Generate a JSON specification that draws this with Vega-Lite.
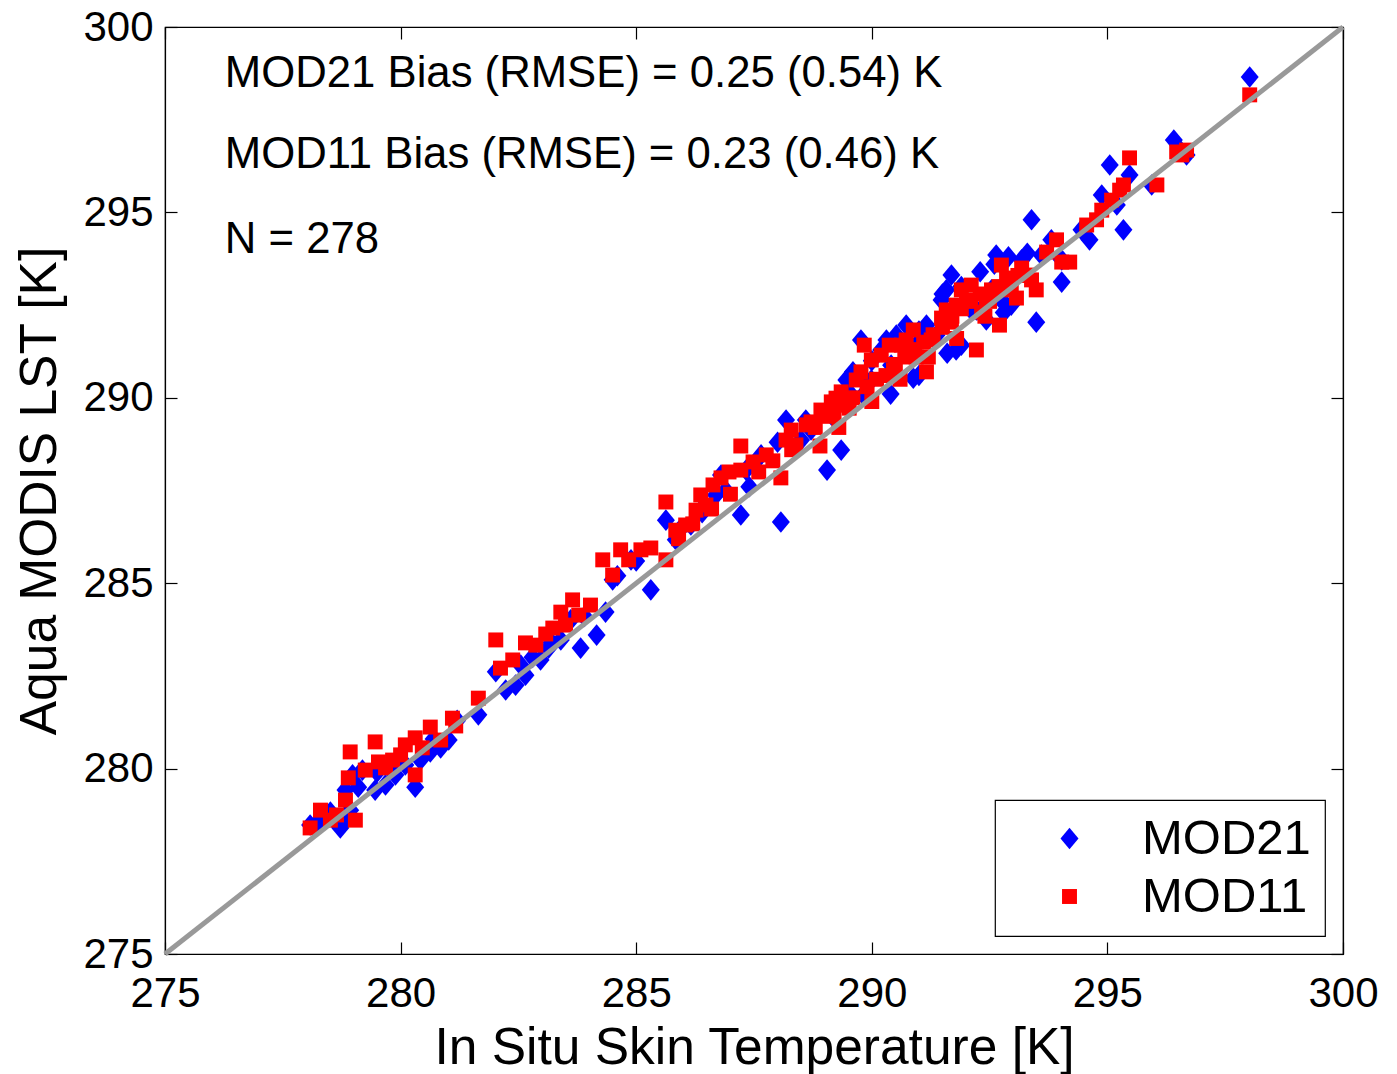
{
  "$schema": "https://vega.github.io/schema/vega-lite/v6.json",
  "width": 1178,
  "height": 927,
  "autosize": {"type": "none"},
  "padding": {"left": 165, "top": 27, "right": 54, "bottom": 120},
  "background": "white",
  "config": {
    "font": "Liberation Sans",
    "view": {"stroke": "black", "strokeWidth": 1.2},
    "axis": {
      "grid": false,
      "labelFont": "Liberation Sans",
      "titleFont": "Liberation Sans",
      "labelFontSize": 42,
      "titleFontSize": 51.5,
      "titleFontWeight": "normal",
      "labelColor": "black",
      "titleColor": "black",
      "domainColor": "black",
      "tickColor": "black",
      "tickSize": -12,
      "tickWidth": 1.2,
      "domainWidth": 1.2,
      "labelFlush": false,
      "labelOverlap": false
    },
    "legend": {
      "strokeColor": "black",
      "strokeWidth": 1.2,
      "fillColor": "white",
      "padding": 14,
      "rowPadding": 8,
      "labelFontSize": 49,
      "labelFont": "Liberation Sans",
      "labelColor": "black",
      "labelLimit": 400,
      "symbolSize": 324,
      "symbolOffset": 36,
      "labelOffset": 48,
      "symbolStrokeWidth": 0
    }
  },
  "datasets": {
    "pts": [
      {"series":"MOD21","insitu":278.08,"lst":278.48},
      {"series":"MOD21","insitu":278.25,"lst":278.56},
      {"series":"MOD21","insitu":278.40,"lst":278.67},
      {"series":"MOD21","insitu":278.51,"lst":278.83},
      {"series":"MOD21","insitu":278.72,"lst":278.40},
      {"series":"MOD21","insitu":278.83,"lst":278.61},
      {"series":"MOD21","insitu":278.93,"lst":278.88},
      {"series":"MOD21","insitu":278.83,"lst":279.42},
      {"series":"MOD21","insitu":278.98,"lst":279.83},
      {"series":"MOD21","insitu":279.19,"lst":279.96},
      {"series":"MOD21","insitu":279.46,"lst":279.42},
      {"series":"MOD21","insitu":279.68,"lst":279.56},
      {"series":"MOD21","insitu":279.89,"lst":279.83},
      {"series":"MOD21","insitu":280.10,"lst":280.10},
      {"series":"MOD21","insitu":280.31,"lst":279.50},
      {"series":"MOD21","insitu":280.42,"lst":280.23},
      {"series":"MOD21","insitu":280.63,"lst":280.45},
      {"series":"MOD21","insitu":280.85,"lst":280.56},
      {"series":"MOD21","insitu":281.02,"lst":280.77},
      {"series":"MOD21","insitu":281.65,"lst":281.45},
      {"series":"MOD21","insitu":282.02,"lst":282.61},
      {"series":"MOD21","insitu":282.23,"lst":282.12},
      {"series":"MOD21","insitu":282.44,"lst":282.25},
      {"series":"MOD21","insitu":282.55,"lst":282.79},
      {"series":"MOD21","insitu":282.65,"lst":282.52},
      {"series":"MOD21","insitu":282.97,"lst":282.93},
      {"series":"MOD21","insitu":283.14,"lst":283.25},
      {"series":"MOD21","insitu":283.40,"lst":283.47},
      {"series":"MOD21","insitu":283.61,"lst":284.01},
      {"series":"MOD21","insitu":283.82,"lst":283.25},
      {"series":"MOD21","insitu":284.16,"lst":283.60},
      {"series":"MOD21","insitu":284.35,"lst":284.22},
      {"series":"MOD21","insitu":284.50,"lst":285.09},
      {"series":"MOD21","insitu":284.89,"lst":285.63},
      {"series":"MOD21","insitu":285.31,"lst":284.82},
      {"series":"MOD21","insitu":285.63,"lst":286.70},
      {"series":"MOD21","insitu":285.84,"lst":286.17},
      {"series":"MOD21","insitu":286.16,"lst":286.57},
      {"series":"MOD21","insitu":286.37,"lst":286.97},
      {"series":"MOD21","insitu":286.69,"lst":287.38},
      {"series":"MOD21","insitu":286.80,"lst":287.92},
      {"series":"MOD21","insitu":287.22,"lst":286.84},
      {"series":"MOD21","insitu":287.33,"lst":288.05},
      {"series":"MOD21","insitu":287.65,"lst":288.46},
      {"series":"MOD21","insitu":288.07,"lst":286.65},
      {"series":"MOD21","insitu":288.18,"lst":289.40},
      {"series":"MOD21","insitu":288.50,"lst":288.86},
      {"series":"MOD21","insitu":288.71,"lst":289.13},
      {"series":"MOD21","insitu":289.05,"lst":288.05},
      {"series":"MOD21","insitu":289.14,"lst":289.54},
      {"series":"MOD21","insitu":289.35,"lst":288.59},
      {"series":"MOD21","insitu":289.46,"lst":290.48},
      {"series":"MOD21","insitu":289.56,"lst":290.08},
      {"series":"MOD21","insitu":289.77,"lst":291.56},
      {"series":"MOD21","insitu":289.82,"lst":290.08},
      {"series":"MOD21","insitu":289.99,"lst":290.48},
      {"series":"MOD21","insitu":290.20,"lst":291.29},
      {"series":"MOD21","insitu":290.31,"lst":291.56},
      {"series":"MOD21","insitu":290.41,"lst":290.88},
      {"series":"MOD21","insitu":290.52,"lst":291.69},
      {"series":"MOD21","insitu":290.73,"lst":291.96},
      {"series":"MOD21","insitu":290.88,"lst":290.53},
      {"series":"MOD21","insitu":290.94,"lst":291.42},
      {"series":"MOD21","insitu":291.16,"lst":291.96},
      {"series":"MOD21","insitu":291.37,"lst":291.69},
      {"series":"MOD21","insitu":291.48,"lst":292.64},
      {"series":"MOD21","insitu":291.58,"lst":292.91},
      {"series":"MOD21","insitu":291.69,"lst":293.31},
      {"series":"MOD21","insitu":291.79,"lst":291.29},
      {"series":"MOD21","insitu":291.90,"lst":291.42},
      {"series":"MOD21","insitu":292.11,"lst":292.37},
      {"series":"MOD21","insitu":292.22,"lst":292.37},
      {"series":"MOD21","insitu":292.43,"lst":292.10},
      {"series":"MOD21","insitu":292.54,"lst":292.91},
      {"series":"MOD21","insitu":292.64,"lst":293.85},
      {"series":"MOD21","insitu":292.75,"lst":292.64},
      {"series":"MOD21","insitu":292.96,"lst":292.50},
      {"series":"MOD21","insitu":293.18,"lst":293.72},
      {"series":"MOD21","insitu":293.39,"lst":294.80},
      {"series":"MOD21","insitu":293.49,"lst":292.04},
      {"series":"MOD21","insitu":293.60,"lst":293.85},
      {"series":"MOD21","insitu":293.81,"lst":294.26},
      {"series":"MOD21","insitu":294.03,"lst":293.72},
      {"series":"MOD21","insitu":294.03,"lst":293.12},
      {"series":"MOD21","insitu":294.45,"lst":294.53},
      {"series":"MOD21","insitu":294.62,"lst":294.26},
      {"series":"MOD21","insitu":294.88,"lst":295.47},
      {"series":"MOD21","insitu":295.05,"lst":296.28},
      {"series":"MOD21","insitu":295.20,"lst":295.20},
      {"series":"MOD21","insitu":295.34,"lst":294.53},
      {"series":"MOD21","insitu":295.47,"lst":296.01},
      {"series":"MOD21","insitu":295.94,"lst":295.74},
      {"series":"MOD21","insitu":296.41,"lst":296.95},
      {"series":"MOD21","insitu":296.54,"lst":296.68},
      {"series":"MOD21","insitu":296.68,"lst":296.55},
      {"series":"MOD21","insitu":298.02,"lst":298.65},
      {"series":"MOD21","insitu":289.6,"lst":290.7},
      {"series":"MOD21","insitu":290.0,"lst":291.0},
      {"series":"MOD21","insitu":290.6,"lst":291.5},
      {"series":"MOD21","insitu":291.0,"lst":291.8},
      {"series":"MOD21","insitu":291.5,"lst":292.8},
      {"series":"MOD21","insitu":291.9,"lst":293.0},
      {"series":"MOD21","insitu":292.3,"lst":293.4},
      {"series":"MOD21","insitu":292.6,"lst":293.6},
      {"series":"MOD21","insitu":292.9,"lst":293.8},
      {"series":"MOD21","insitu":293.3,"lst":293.9},
      {"series":"MOD21","insitu":290.4,"lst":290.1},
      {"series":"MOD21","insitu":291.0,"lst":290.6},
      {"series":"MOD21","insitu":291.6,"lst":291.2},
      {"series":"MOD21","insitu":292.8,"lst":292.3},
      {"series":"MOD21","insitu":288.6,"lst":289.4},
      {"series":"MOD21","insitu":288.0,"lst":288.8},
      {"series":"MOD21","insitu":287.4,"lst":287.6},
      {"series":"MOD21","insitu":286.9,"lst":287.5},
      {"series":"MOD21","insitu":286.4,"lst":286.9},
      {"series":"MOD21","insitu":285.9,"lst":286.4},
      {"series":"MOD21","insitu":285.0,"lst":285.6},
      {"series":"MOD21","insitu":284.6,"lst":285.2},
      {"series":"MOD21","insitu":283.9,"lst":284.1},
      {"series":"MOD21","insitu":283.2,"lst":283.4},
      {"series":"MOD21","insitu":282.8,"lst":283.0},
      {"series":"MOD21","insitu":281.2,"lst":281.3},
      {"series":"MOD21","insitu":280.7,"lst":280.8},
      {"series":"MOD21","insitu":279.5,"lst":279.9},
      {"series":"MOD21","insitu":279.1,"lst":279.5},
      {"series":"MOD21","insitu":278.6,"lst":278.6},
      {"series":"MOD11","insitu":278.08,"lst":278.40},
      {"series":"MOD11","insitu":278.30,"lst":278.88},
      {"series":"MOD11","insitu":278.51,"lst":278.61},
      {"series":"MOD11","insitu":278.64,"lst":278.75},
      {"series":"MOD11","insitu":278.83,"lst":279.15},
      {"series":"MOD11","insitu":278.89,"lst":279.75},
      {"series":"MOD11","insitu":278.93,"lst":280.45},
      {"series":"MOD11","insitu":279.04,"lst":278.61},
      {"series":"MOD11","insitu":279.25,"lst":279.96},
      {"series":"MOD11","insitu":279.46,"lst":280.72},
      {"series":"MOD11","insitu":279.53,"lst":280.18},
      {"series":"MOD11","insitu":279.68,"lst":280.02},
      {"series":"MOD11","insitu":279.83,"lst":280.23},
      {"series":"MOD11","insitu":280.00,"lst":280.37},
      {"series":"MOD11","insitu":280.10,"lst":280.64},
      {"series":"MOD11","insitu":280.31,"lst":279.83},
      {"series":"MOD11","insitu":280.31,"lst":280.83},
      {"series":"MOD11","insitu":280.46,"lst":280.56},
      {"series":"MOD11","insitu":280.63,"lst":281.12},
      {"series":"MOD11","insitu":280.85,"lst":280.77},
      {"series":"MOD11","insitu":281.10,"lst":281.36},
      {"series":"MOD11","insitu":281.17,"lst":281.15},
      {"series":"MOD11","insitu":281.65,"lst":281.90},
      {"series":"MOD11","insitu":282.02,"lst":283.47},
      {"series":"MOD11","insitu":282.12,"lst":282.71},
      {"series":"MOD11","insitu":282.38,"lst":282.93},
      {"series":"MOD11","insitu":282.65,"lst":283.39},
      {"series":"MOD11","insitu":282.87,"lst":283.33},
      {"series":"MOD11","insitu":283.08,"lst":283.63},
      {"series":"MOD11","insitu":283.23,"lst":283.79},
      {"series":"MOD11","insitu":283.40,"lst":284.22},
      {"series":"MOD11","insitu":283.50,"lst":283.87},
      {"series":"MOD11","insitu":283.65,"lst":284.55},
      {"series":"MOD11","insitu":283.78,"lst":284.14},
      {"series":"MOD11","insitu":284.03,"lst":284.41},
      {"series":"MOD11","insitu":284.29,"lst":285.63},
      {"series":"MOD11","insitu":284.50,"lst":285.22},
      {"series":"MOD11","insitu":284.67,"lst":285.90},
      {"series":"MOD11","insitu":284.84,"lst":285.63},
      {"series":"MOD11","insitu":285.10,"lst":285.90},
      {"series":"MOD11","insitu":285.31,"lst":285.95},
      {"series":"MOD11","insitu":285.63,"lst":287.19},
      {"series":"MOD11","insitu":285.63,"lst":285.63},
      {"series":"MOD11","insitu":285.84,"lst":286.43},
      {"series":"MOD11","insitu":286.05,"lst":286.57},
      {"series":"MOD11","insitu":286.27,"lst":286.97},
      {"series":"MOD11","insitu":286.37,"lst":287.38},
      {"series":"MOD11","insitu":286.48,"lst":287.11},
      {"series":"MOD11","insitu":286.63,"lst":287.65},
      {"series":"MOD11","insitu":286.80,"lst":287.84},
      {"series":"MOD11","insitu":286.97,"lst":288.00},
      {"series":"MOD11","insitu":287.22,"lst":288.70},
      {"series":"MOD11","insitu":287.22,"lst":288.05},
      {"series":"MOD11","insitu":287.48,"lst":288.27},
      {"series":"MOD11","insitu":287.76,"lst":288.46},
      {"series":"MOD11","insitu":288.07,"lst":287.84},
      {"series":"MOD11","insitu":288.18,"lst":288.86},
      {"series":"MOD11","insitu":288.29,"lst":289.13},
      {"series":"MOD11","insitu":288.39,"lst":288.73},
      {"series":"MOD11","insitu":288.61,"lst":289.27},
      {"series":"MOD11","insitu":288.71,"lst":289.35},
      {"series":"MOD11","insitu":288.92,"lst":289.67},
      {"series":"MOD11","insitu":289.14,"lst":289.89},
      {"series":"MOD11","insitu":289.24,"lst":289.99},
      {"series":"MOD11","insitu":289.35,"lst":290.16},
      {"series":"MOD11","insitu":289.52,"lst":289.72},
      {"series":"MOD11","insitu":289.67,"lst":290.48},
      {"series":"MOD11","insitu":289.77,"lst":290.70},
      {"series":"MOD11","insitu":289.84,"lst":291.42},
      {"series":"MOD11","insitu":289.99,"lst":291.02},
      {"series":"MOD11","insitu":290.20,"lst":291.15},
      {"series":"MOD11","insitu":290.37,"lst":291.42},
      {"series":"MOD11","insitu":290.46,"lst":290.75},
      {"series":"MOD11","insitu":290.63,"lst":291.42},
      {"series":"MOD11","insitu":290.73,"lst":291.56},
      {"series":"MOD11","insitu":290.88,"lst":291.83},
      {"series":"MOD11","insitu":290.94,"lst":291.10},
      {"series":"MOD11","insitu":291.16,"lst":290.70},
      {"series":"MOD11","insitu":291.26,"lst":291.56},
      {"series":"MOD11","insitu":291.48,"lst":292.15},
      {"series":"MOD11","insitu":291.58,"lst":292.37},
      {"series":"MOD11","insitu":291.69,"lst":292.04},
      {"series":"MOD11","insitu":291.79,"lst":292.50},
      {"series":"MOD11","insitu":291.90,"lst":292.91},
      {"series":"MOD11","insitu":292.01,"lst":292.64},
      {"series":"MOD11","insitu":292.11,"lst":293.04},
      {"series":"MOD11","insitu":292.22,"lst":291.29},
      {"series":"MOD11","insitu":292.33,"lst":292.31},
      {"series":"MOD11","insitu":292.43,"lst":292.64},
      {"series":"MOD11","insitu":292.54,"lst":292.91},
      {"series":"MOD11","insitu":292.71,"lst":291.96},
      {"series":"MOD11","insitu":292.75,"lst":293.58},
      {"series":"MOD11","insitu":292.86,"lst":293.23},
      {"series":"MOD11","insitu":292.96,"lst":292.91},
      {"series":"MOD11","insitu":293.07,"lst":292.69},
      {"series":"MOD11","insitu":293.18,"lst":293.50},
      {"series":"MOD11","insitu":293.28,"lst":293.31},
      {"series":"MOD11","insitu":293.39,"lst":293.18},
      {"series":"MOD11","insitu":293.49,"lst":292.91},
      {"series":"MOD11","insitu":293.71,"lst":293.93},
      {"series":"MOD11","insitu":293.92,"lst":294.26},
      {"series":"MOD11","insitu":294.03,"lst":293.66},
      {"series":"MOD11","insitu":294.20,"lst":293.66},
      {"series":"MOD11","insitu":294.56,"lst":294.66},
      {"series":"MOD11","insitu":294.77,"lst":294.80},
      {"series":"MOD11","insitu":294.88,"lst":295.06},
      {"series":"MOD11","insitu":295.09,"lst":295.33},
      {"series":"MOD11","insitu":295.26,"lst":295.60},
      {"series":"MOD11","insitu":295.34,"lst":295.74},
      {"series":"MOD11","insitu":295.47,"lst":296.47},
      {"series":"MOD11","insitu":296.05,"lst":295.74},
      {"series":"MOD11","insitu":296.47,"lst":296.63},
      {"series":"MOD11","insitu":296.58,"lst":296.55},
      {"series":"MOD11","insitu":296.68,"lst":296.68},
      {"series":"MOD11","insitu":298.02,"lst":298.17},
      {"series":"MOD11","insitu":288.8,"lst":289.2},
      {"series":"MOD11","insitu":289.0,"lst":289.5},
      {"series":"MOD11","insitu":289.2,"lst":289.6},
      {"series":"MOD11","insitu":289.4,"lst":289.8},
      {"series":"MOD11","insitu":289.6,"lst":290.0},
      {"series":"MOD11","insitu":289.9,"lst":290.3},
      {"series":"MOD11","insitu":290.1,"lst":290.5},
      {"series":"MOD11","insitu":290.3,"lst":290.6},
      {"series":"MOD11","insitu":290.5,"lst":290.9},
      {"series":"MOD11","insitu":290.7,"lst":291.1},
      {"series":"MOD11","insitu":290.9,"lst":291.3},
      {"series":"MOD11","insitu":291.1,"lst":291.5},
      {"series":"MOD11","insitu":291.3,"lst":291.7},
      {"series":"MOD11","insitu":291.5,"lst":291.9},
      {"series":"MOD11","insitu":291.7,"lst":292.2},
      {"series":"MOD11","insitu":291.9,"lst":292.4},
      {"series":"MOD11","insitu":292.1,"lst":292.6},
      {"series":"MOD11","insitu":292.3,"lst":292.8},
      {"series":"MOD11","insitu":292.5,"lst":292.6},
      {"series":"MOD11","insitu":292.7,"lst":293.0},
      {"series":"MOD11","insitu":292.9,"lst":293.2},
      {"series":"MOD11","insitu":293.1,"lst":293.3},
      {"series":"MOD11","insitu":288.3,"lst":288.6},
      {"series":"MOD11","insitu":287.9,"lst":288.3},
      {"series":"MOD11","insitu":287.6,"lst":288.0},
      {"series":"MOD11","insitu":287.0,"lst":287.4},
      {"series":"MOD11","insitu":286.6,"lst":287.0},
      {"series":"MOD11","insitu":286.2,"lst":286.6},
      {"series":"MOD11","insitu":285.9,"lst":286.2},
      {"series":"MOD11","insitu":290.0,"lst":289.9},
      {"series":"MOD11","insitu":290.6,"lst":290.5},
      {"series":"MOD11","insitu":291.2,"lst":291.1},
      {"series":"MOD11","insitu":291.8,"lst":291.6},
      {"series":"MOD11","insitu":292.4,"lst":292.2},
      {"series":"MOD11","insitu":289.3,"lst":289.2},
      {"series":"MOD11","insitu":288.9,"lst":288.7}
    ],
    "oneline": [{"insitu": 275, "lst": 275}, {"insitu": 300, "lst": 300}],
    "notes": [
      {"insitu": 276.27, "lst": 298.38, "label": "MOD21 Bias (RMSE) = 0.25 (0.54) K"},
      {"insitu": 276.27, "lst": 296.20, "label": "MOD11 Bias (RMSE) = 0.23 (0.46) K"},
      {"insitu": 276.27, "lst": 293.91, "label": "N = 278"}
    ]
  },
  "layer": [
    {
      "data": {"name": "pts"},
      "mark": {"type": "point", "filled": true, "opacity": 1, "size": 324, "strokeWidth": 0},
      "encoding": {
        "x": {
          "field": "insitu", "type": "quantitative",
          "scale": {"domain": [275, 300], "nice": false, "zero": false},
          "axis": {"orient": "bottom", "title": "In Situ Skin Temperature [K]", "values": [275, 280, 285, 290, 295, 300], "labelPadding": 31, "titlePadding": 8}
        },
        "y": {
          "field": "lst", "type": "quantitative",
          "scale": {"domain": [275, 300], "nice": false, "zero": false},
          "axis": {"orient": "left", "title": "Aqua MODIS LST [K]", "values": [275, 280, 285, 290, 295, 300], "labelPadding": 24, "titlePadding": 16}
        },
        "color": {
          "field": "series", "type": "nominal",
          "scale": {"domain": ["MOD21", "MOD11"], "range": ["#0000ff", "#ff0000"]},
          "legend": {"title": null, "orient": "bottom-right", "offset": 18}
        },
        "shape": {
          "field": "series", "type": "nominal",
          "scale": {"domain": ["MOD21", "MOD11"], "range": ["M0,-1.2L1,0L0,1.2L-1,0Z", "M-0.83,-0.83L0.83,-0.83L0.83,0.83L-0.83,0.83Z"]},
          "legend": {"title": null, "orient": "bottom-right", "offset": 18}
        }
      }
    },
    {
      "data": {"name": "oneline"},
      "mark": {"type": "line", "color": "#999999", "strokeWidth": 5},
      "encoding": {
        "x": {"field": "insitu", "type": "quantitative", "axis": {"orient": "top", "title": null, "labels": false, "values": [275, 280, 285, 290, 295, 300]}},
        "y": {"field": "lst", "type": "quantitative", "axis": {"orient": "right", "title": null, "labels": false, "values": [275, 280, 285, 290, 295, 300]}}
      }
    },
    {
      "data": {"name": "notes"},
      "mark": {"type": "text", "align": "left", "baseline": "alphabetic", "fontSize": 43.7, "font": "Liberation Sans", "color": "black"},
      "encoding": {
        "x": {"field": "insitu", "type": "quantitative", "axis": null},
        "y": {"field": "lst", "type": "quantitative", "axis": null},
        "text": {"field": "label"}
      }
    }
  ],
  "resolve": {"axis": {"x": "independent", "y": "independent"}}
}
